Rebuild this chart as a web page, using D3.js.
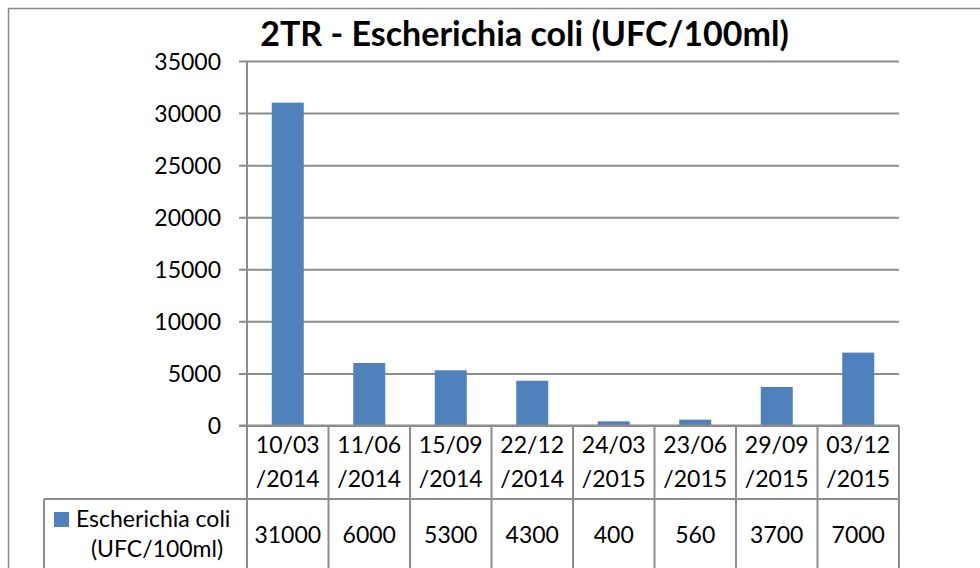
<!DOCTYPE html>
<html>
<head>
<meta charset="utf-8">
<script src="https://cdn.jsdelivr.net/npm/d3@7"></script>
<style>
  html, body { margin: 0; padding: 0; background: #fff; }
  svg { display: block; }
  text { font-family: Lato, "Open Sans", sans-serif; fill: #000; }
</style>
</head>
<body>
<svg id="chart" width="980" height="568"></svg>
<script>
// Sample dates (two-line labels) and E. coli counts
const dateLine1 = ["10/03", "11/06", "15/09", "22/12", "24/03", "23/06", "29/09", "03/12"];
const dateLine2 = ["/2014", "/2014", "/2014", "/2014", "/2015", "/2015", "/2015", "/2015"];
const ecoli = [31000, 6000, 5300, 4300, 400, 560, 3700, 7000];
const yTicks = [0, 5000, 10000, 15000, 20000, 25000, 30000, 35000];
const seriesName = ["Escherichia coli", "(UFC/100ml)"];
const title = "2TR - Escherichia coli (UFC/100ml)";

const svg = d3.select("#chart");
const gridColor = "#8c8c8c";
const barColor = "#4f81bd";
const fontSize = "23px";

const plot = { left: 247, right: 899, top: 61, bottom: 425.5 };
const tableMid = 499;
const tableBottom = 600;
const legendLeft = 44;

// Outer chart frame
svg.append("rect")
  .attr("x", 8.5).attr("y", 8.5)
  .attr("width", 1100).attr("height", 700)
  .attr("fill", "none").attr("stroke", "#8a8a8a").attr("stroke-width", 1.5);

const x = d3.scaleBand()
  .domain(d3.range(ecoli.length))
  .range([plot.left, plot.right])
  .paddingInner(0).paddingOuter(0);

const y = d3.scaleLinear()
  .domain([0, 35000])
  .range([plot.bottom, plot.top]);

// Horizontal gridlines + left ticks
const yAxis = d3.axisLeft(y)
  .tickValues(yTicks)
  .tickFormat(d3.format("d"))
  .tickSize(-(plot.right - plot.left))
  .tickPadding(0);

const gy = svg.append("g")
  .attr("transform", `translate(${plot.left},0)`)
  .call(yAxis);
gy.select(".domain").remove();
gy.selectAll(".tick line")
  .attr("x1", -8)
  .attr("stroke", gridColor).attr("stroke-width", 2);
gy.selectAll(".tick text")
  .attr("x", -26)
  .attr("dy", "0.36em")
  .style("font-size", fontSize)
  .style("font-family", "Lato, sans-serif");

// Bars
const barW = 32;
svg.append("g").selectAll("rect")
  .data(ecoli)
  .join("rect")
  .attr("x", (d, i) => x(i) + x.bandwidth() / 2 - barW / 2)
  .attr("y", d => y(d))
  .attr("width", barW)
  .attr("height", d => y(0) - y(d))
  .attr("fill", barColor);

// Data table lines
const lines = svg.append("g")
  .attr("stroke", gridColor).attr("stroke-width", 2).attr("fill", "none");

// Baseline across plot
lines.append("line")
  .attr("x1", plot.left - 8).attr("x2", plot.right)
  .attr("y1", y(0)).attr("y2", y(0));
// Vertical axis line through the plot and table
lines.append("line")
  .attr("x1", plot.left).attr("x2", plot.left)
  .attr("y1", plot.top).attr("y2", tableBottom);
// Column separators
lines.selectAll("line.col")
  .data(d3.range(1, ecoli.length + 1))
  .join("line")
  .attr("class", "col")
  .attr("x1", i => i < ecoli.length ? x(i) : plot.right)
  .attr("x2", i => i < ecoli.length ? x(i) : plot.right)
  .attr("y1", y(0)).attr("y2", tableBottom);
// Row separator between dates and values
lines.append("line")
  .attr("x1", legendLeft).attr("x2", plot.right)
  .attr("y1", tableMid).attr("y2", tableMid);
// Legend cell left edge
lines.append("line")
  .attr("x1", legendLeft).attr("x2", legendLeft)
  .attr("y1", tableMid).attr("y2", tableBottom);

// Category labels (two lines)
const cats = svg.append("g").attr("text-anchor", "middle").style("font-size", fontSize);
cats.selectAll("text.l1")
  .data(dateLine1)
  .join("text")
  .attr("class", "l1")
  .attr("x", (d, i) => x(i) + x.bandwidth() / 2)
  .attr("y", 453)
  .text(d => d);
cats.selectAll("text.l2")
  .data(dateLine2)
  .join("text")
  .attr("class", "l2")
  .attr("x", (d, i) => x(i) + x.bandwidth() / 2)
  .attr("y", 487)
  .text(d => d);

// Values row
cats.selectAll("text.val")
  .data(ecoli)
  .join("text")
  .attr("class", "val")
  .attr("x", (d, i) => x(i) + x.bandwidth() / 2)
  .attr("y", 543)
  .text(d => d);

// Legend key
svg.append("rect")
  .attr("x", 54).attr("y", 512)
  .attr("width", 15).attr("height", 15)
  .attr("fill", barColor);
svg.append("text")
  .attr("x", 76).attr("y", 527)
  .style("font-size", fontSize)
  .text(seriesName[0]);
svg.append("text")
  .attr("x", 157).attr("y", 557)
  .attr("text-anchor", "middle")
  .style("font-size", fontSize)
  .text(seriesName[1]);

// Title
svg.append("text")
  .attr("x", 524.5).attr("y", 46)
  .attr("text-anchor", "middle")
  .style("font-size", "34px")
  .style("font-weight", "bold")
  .text(title);
</script>
</body>
</html>
